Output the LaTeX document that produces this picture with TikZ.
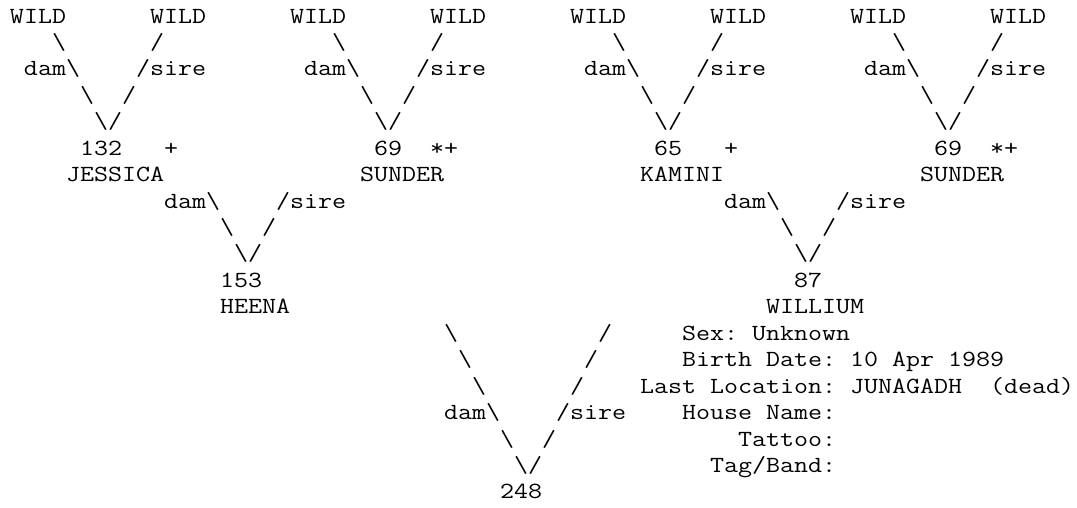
\documentclass[tikz,border=0pt]{standalone}
\newcommand{\pbs}{\textbackslash}

\begin{document}
\begin{tikzpicture}[x=10.5pt, y=-19.83pt,
    txt/.style={anchor=base west, inner sep=0pt, outer sep=0pt, yscale=0.85,
      font=\ttfamily\fontsize{20.4}{20.4}\selectfont}]
  \useasboundingbox (-0.714,0.13) rectangle (76.21,19.305);
  % wild parents of the grandparents
  \foreach \g in {0,20,40,60} {
    \node[txt] (wd\g) at (\g,1) {WILD};
    \node[txt] (ws\g) at (\g+10,1) {WILD};
    \node[txt] (a\g) at (\g+3,2) {\pbs};
    \node[txt] (b\g) at (\g+10,2) {/};
    \node[txt] (dam\g) at (\g+1,3) {dam\pbs};
    \node[txt] (sire\g) at (\g+9,3) {/sire};
    \node[txt] (c\g) at (\g+5,4) {\pbs};
    \node[txt] (d\g) at (\g+8,4) {/};
    \node[txt] (v\g) at (\g+6,5) {\pbs/};
  }
  % grandparents
  \foreach \nm/\c/\num/\fc/\fl/\nc/\name in {jes/5/132/11/+/4/JESSICA,
      sun/26/69/30/*+/25/SUNDER, kam/46/65/51/+/45/KAMINI,
      sunb/66/69/70/*+/65/SUNDER} {
    \node[txt] (n\nm) at (\c,6) {\num};
    \node[txt] (f\nm) at (\fc,6) {\fl};
    \node[txt] (\nm) at (\nc,7) {\name};
  }
  % parents
  \foreach \g in {0,40} {
    \node[txt] (pdam\g) at (\g+11,8) {dam\pbs};
    \node[txt] (psire\g) at (\g+19,8) {/sire};
    \node[txt] (pc\g) at (\g+15,9) {\pbs};
    \node[txt] (pd\g) at (\g+18,9) {/};
    \node[txt] (pv\g) at (\g+16,10) {\pbs/};
  }
  \node[txt] (n153) at (15,11) {153};
  \node[txt] (heena) at (15,12) {HEENA};
  \node[txt] (n87) at (56,11) {87};
  \node[txt] (willium) at (54,12) {WILLIUM};
  % offspring
  \foreach \r/\l/\rr in {13/31/42, 14/32/41, 15/33/40} {
    \node[txt] (l\r) at (\l,\r) {\pbs};
    \node[txt] (r\r) at (\rr,\r) {/};
  }
  \node[txt] (odam) at (31,16) {dam\pbs};
  \node[txt] (osire) at (39,16) {/sire};
  \node[txt] (l17) at (35,17) {\pbs};
  \node[txt] (r17) at (38,17) {/};
  \node[txt] (ov) at (36,18) {\pbs/};
  \node[txt] (n248) at (35,19) {248};
  % details of 87
  \foreach \c/\r/\t in {48/13/Sex:, 53/13/Unknown, 48/14/Birth Date:,
      60/14/10 Apr 1989, 45/15/Last Location:, 60/15/JUNAGADH,
      70/15/(dead), 48/16/House Name:, 52/17/Tattoo:, 50/18/{Tag/Band:}} {
    \node[txt] (i\r-\c) at (\c,\r) {\t};
  }
\end{tikzpicture}
\end{document}
